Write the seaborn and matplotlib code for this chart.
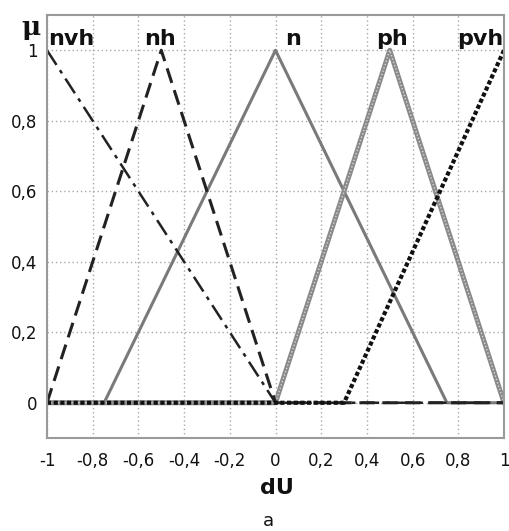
import matplotlib
matplotlib.use("Agg")
import matplotlib.pyplot as plt
import seaborn as sns
import numpy as np

sns.set_theme(style="white")
plt.rcParams['font.family'] = ['DejaVu Sans']

# Data: membership functions (breakpoints)
nvh_x = [-1, 0, 1]
nvh_y = [1, 0, 0]
nh_x = [-1, -0.5, 0, 1]
nh_y = [0, 1, 0, 0]
n_x = [-1, -0.75, 0, 0.75, 1]
n_y = [0, 0, 1, 0, 0]
ph_x = [-1, 0, 0.5, 1]
ph_y = [0, 0, 1, 0]
pvh_x = [-1, 0.3, 1]
pvh_y = [0, 0, 1]

labels = ["nvh", "nh", "n", "ph", "pvh"]
label_x = [-0.995, -0.505, 0.077, 0.51, 0.895]
label_ha = ["left", "center", "center", "center", "center"]

x_ticks = [-1, -0.8, -0.6, -0.4, -0.2, 0, 0.2, 0.4, 0.6, 0.8, 1]
x_ticklabels = ["-1", "-0,8", "-0,6", "-0,4", "-0,2", "0", "0,2", "0,4", "0,6", "0,8", "1"]
y_ticks = [0, 0.2, 0.4, 0.6, 0.8, 1]
y_ticklabels = ["0", "0,2", "0,4", "0,6", "0,8", "1"]

fig = plt.figure(figsize=(5.09, 5.31), dpi=100)
ax = fig.add_axes([47/509, (531-438)/531, (504-47)/509, (438-15)/531])

ax.set_xlim(-1, 1)
ax.set_ylim(-0.1, 1.1)
ax.set_xticks(x_ticks)
ax.set_yticks(y_ticks)
ax.grid(True, linestyle=(0, (1, 2)), color="#a8a8a8", linewidth=1.0)
ax.set_axisbelow(True)

# curves
sns.lineplot(x=n_x, y=n_y, ax=ax, color="#7a7a7a", linewidth=2.2, linestyle="-")
sns.lineplot(x=ph_x, y=ph_y, ax=ax, color="#8a8a8a", linewidth=3.6, linestyle="-")
sns.lineplot(x=ph_x, y=ph_y, ax=ax, color="#d8d8d8", linewidth=1.0, linestyle=(0, (1, 1.5)))
sns.lineplot(x=nvh_x, y=nvh_y, ax=ax, color="#222222", linewidth=1.8, linestyle=(0, (7, 2.5, 1.5, 2.5)))
sns.lineplot(x=nh_x, y=nh_y, ax=ax, color="#222222", linewidth=2.2, linestyle=(0, (5, 2.5)))
sns.lineplot(x=pvh_x, y=pvh_y, ax=ax, color="#111111", linewidth=3.0, linestyle=(0, (1, 0.6)))

for lab, lx, ha in zip(labels, label_x, label_ha):
    ax.text(lx, 1.015, lab, ha=ha, va="baseline", fontsize=16, fontweight="bold",
            color="#111111")

ax.set_xticklabels(x_ticklabels, fontsize=12, color="#111111")
ax.set_yticklabels(y_ticklabels, fontsize=12, color="#111111")
ax.tick_params(axis="x", direction="in", length=4, pad=10, color="#999999")
ax.tick_params(axis="y", direction="in", length=4, pad=7, color="#999999")

for s in ax.spines.values():
    s.set_color("#9a9a9a")
    s.set_linewidth(1.5)

ax.set_xlabel("")
ax.set_ylabel("")
fig.text(31/509, 1 - 28/531, "μ", ha="center", va="center", fontsize=19, fontweight="bold",
         family=["DejaVu Serif"], color="#111111")
fig.text(277/509, 1 - 488/531, "dU", ha="center", va="center", fontsize=16, fontweight="bold",
         color="#111111")
fig.text(268/509, 1 - 521/531, "a", ha="center", va="center", fontsize=13, color="#111111")

fig.savefig("out.png", dpi=100)
